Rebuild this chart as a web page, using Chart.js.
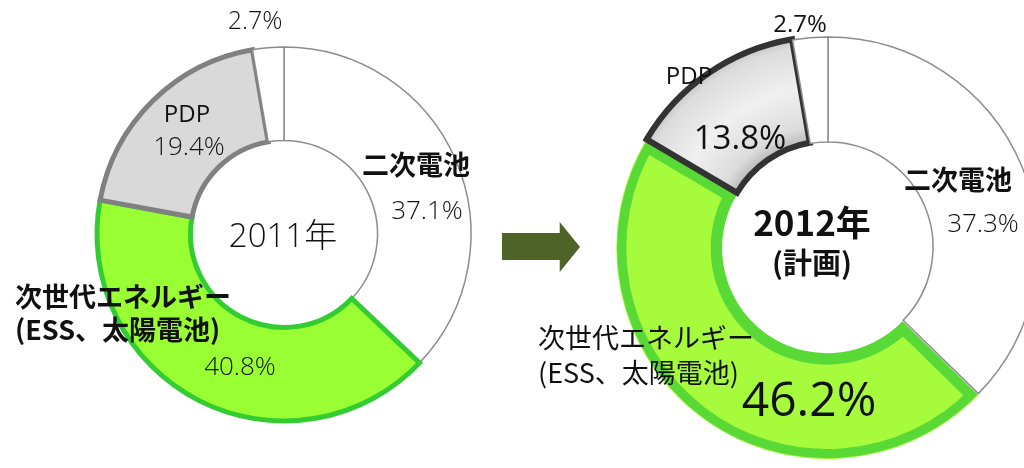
<!DOCTYPE html>
<html lang="ja">
<head>
<meta charset="utf-8">
<script src="https://cdn.jsdelivr.net/npm/chart.js@4.4.1/dist/chart.umd.min.js"></script>
<style>
  html, body { margin: 0; padding: 0; background: #fff; }
  body { width: 1024px; height: 468px; overflow: hidden; position: relative; }
  canvas { position: absolute; top: 0; }
  #c2011 { left: 0; }
  #c2012 { left: 520px; }
  .arrow {
    position: absolute; left: 502px; top: 222px; width: 78px; height: 50px;
    background: #4f6228;
    clip-path: polygon(0 22%, 74% 22%, 74% 0, 100% 50%, 74% 100%, 74% 76%, 0 76%);
  }
</style>
</head>
<body>
<canvas id="c2011" width="568" height="468"></canvas>
<div class="arrow"></div>
<canvas id="c2012" width="616" height="494"></canvas>
<script>
// segment order, clockwise from 12 o'clock
const categories = ['二次電池', '次世代エネルギー(ESS、太陽電池)', 'PDP', 'その他'];
const share2011 = [37.1, 40.8, 19.4, 2.7];
const share2012 = [37.3, 46.2, 13.8, 2.7];

const JP = '"Noto Sans CJK JP", "Noto Sans", sans-serif';
const NUM = '"Open Sans", "Noto Sans CJK JP", sans-serif';
const pct = v => v.toFixed(1) + '%';

// text placed relative to the doughnut centre; idx -> value of that segment
const labels2011 = [
  { idx: 3, dx: -29, dy: -212, font: '300 25px ' + NUM },
  { text: 'PDP', dx: -97, dy: -119, font: '24px ' + NUM },
  { idx: 2, dx: -95, dy: -86, font: '300 26px ' + NUM },
  { text: '二次電池', dx: 132, dy: -69, font: 'bold 27px ' + JP },
  { idx: 0, dx: 143, dy: -22, font: '300 26px ' + NUM },
  { text: '2011年', dx: -1, dy: 4, font: '300 33px ' + NUM },
  { text: '次世代エネルギー', dx: -269, dy: 63, font: 'bold 27px ' + JP, align: 'left' },
  { text: '(ESS、太陽電池)', dx: -269, dy: 96, font: 'bold 27px ' + JP, align: 'left' },
  { idx: 1, dx: -44, dy: 134, font: '300 26px ' + NUM }
];
const labels2012 = [
  { idx: 3, dx: -28, dy: -222, font: '24px ' + NUM },
  { text: 'PDP', dx: -139, dy: -170, font: '24px ' + NUM },
  { idx: 2, dx: -88, dy: -107, font: '33px ' + NUM },
  { text: '二次電池', dx: 130, dy: -67, font: 'bold 27px ' + JP },
  { idx: 0, dx: 155, dy: -22, font: '300 26px ' + NUM },
  { text: '2012年', dx: -16, dy: -24, font: 'bold 35px ' + JP },
  { text: '(計画)', dx: -16, dy: 16, font: 'bold 29px ' + JP },
  { text: '次世代エネルギー', dx: -290, dy: 91, font: '27px ' + JP, align: 'left' },
  { text: '(ESS、太陽電池)', dx: -290, dy: 126, font: '27px ' + JP, align: 'left' },
  { idx: 1, dx: -19, dy: 155, font: '48px ' + NUM }
];

const textPlugin = {
  id: 'ringText',
  afterDraw(chart, args, opts) {
    const { ctx, chartArea } = chart;
    const cx = (chartArea.left + chartArea.right) / 2;
    const cy = (chartArea.top + chartArea.bottom) / 2;
    const data = chart.data.datasets[0].data;
    ctx.save();
    ctx.fillStyle = '#111';
    ctx.textBaseline = 'middle';
    opts.items.forEach(l => {
      ctx.font = l.font;
      ctx.textAlign = l.align || 'center';
      ctx.fillText(l.text !== undefined ? l.text : pct(data[l.idx]), cx + l.dx, cy + l.dy);
    });
    ctx.restore();
  }
};

// soft shading across the ring width (grey PDP slice)
function ringShade(chart, stops, radius) {
  const area = chart.chartArea;
  if (!area) return stops[2];
  const cx = (area.left + area.right) / 2, cy = (area.top + area.bottom) / 2;
  const g = chart.ctx.createRadialGradient(cx, cy, radius / 2 - 2, cx, cy, radius + 8);
  g.addColorStop(0, stops[0]);
  g.addColorStop(0.15, stops[1]);
  g.addColorStop(0.5, stops[2]);
  g.addColorStop(0.85, stops[1]);
  g.addColorStop(1, stops[0]);
  return g;
}

function makeDoughnut(id, values, radius, ds, items) {
  return new Chart(document.getElementById(id), {
    type: 'doughnut',
    data: { labels: categories, datasets: [Object.assign({ data: values, borderJoinStyle: 'miter' }, ds)] },
    options: {
      responsive: false,
      animation: false,
      radius: radius,
      cutout: '50%',
      layout: { padding: 0 },
      plugins: { legend: { display: false }, tooltip: { enabled: false }, ringText: { items: items } }
    },
    plugins: [textPlugin]
  });
}

makeDoughnut('c2011', share2011, 187, {
  backgroundColor: ['#ffffff', '#99ff33', '#d9d9d9', '#ffffff'],
  borderColor: ['#8c8c8c', '#33cc33', '#808080', '#8c8c8c'],
  borderWidth: [1.5, 5, 5, 1.5]
}, labels2011);

makeDoughnut('c2012', share2012, 210, {
  backgroundColor: c => {
    if (c.dataIndex === 1) return '#a6fb3c';
    if (c.dataIndex === 2) return ringShade(c.chart, ['#b4b4b4', '#dcdcdc', '#f0f0f0'], 210);
    return '#ffffff';
  },
  borderColor: ['#8c8c8c', '#58d936', '#333333', '#8c8c8c'],
  borderWidth: [1.5, 10, 6, 1.5],
  borderAlign: ['center', 'inner', 'center', 'center'],
  offset: [0, 6, 3, 0]
}, labels2012);
</script>
</body>
</html>
